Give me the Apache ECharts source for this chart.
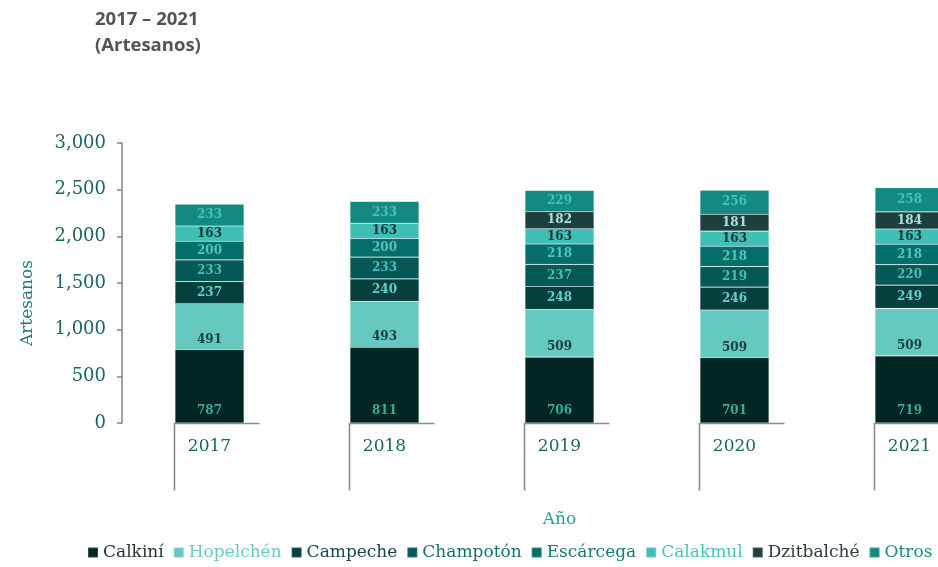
<!DOCTYPE html>
<html>
<head>
<meta charset="utf-8">
<script src="https://cdn.jsdelivr.net/npm/echarts@6/dist/echarts.min.js"></script>
<style>
  html, body { margin: 0; padding: 0; background: #fff; }
  #chart { width: 938px; height: 567px; }
</style>
</head>
<body>
<div id="chart"></div>
<script>
// Artesanos por municipio, 2017 – 2021
const years = ['2017', '2018', '2019', '2020', '2021'];
const calkini    = [787, 811, 706, 701, 719];
const hopelchen  = [491, 493, 509, 509, 509];
const campeche   = [237, 240, 248, 246, 249];
const champoton  = [233, 233, 237, 219, 220];
const escarcega  = [200, 200, 218, 218, 218];
const calakmul   = [163, 163, 163, 163, 163];
const dzitbalche = [null, null, 182, 181, 184];
const otros      = [233, 233, 229, 256, 258];
const yTicks = [0, 500, 1000, 1500, 2000, 2500, 3000];

const SERIF = '"DejaVu Serif", serif';
const BAR_W = 69;

const seriesDefs = [
  { name: 'Calkiní',    data: calkini,    color: '#012624', label: '#38ABA1', pos: 'insideBottom', dist: 6 },
  { name: 'Hopelchén',  data: hopelchen,  color: '#66C9C0', label: '#1B4040', pos: 'insideBottom', dist: 4 },
  { name: 'Campeche',   data: campeche,   color: '#053F3E', label: '#62CFC4', pos: 'inside' },
  { name: 'Champotón',  data: champoton,  color: '#045856', label: '#45BFB4', pos: 'inside' },
  { name: 'Escárcega',  data: escarcega,  color: '#046F6A', label: '#52C4B9', pos: 'inside' },
  { name: 'Calakmul',   data: calakmul,   color: '#3EC0B6', label: '#163636', pos: 'inside' },
  { name: 'Dzitbalché', data: dzitbalche, color: '#1D3F3D', label: '#A9E2DC', pos: 'inside' },
  { name: 'Otros',      data: otros,      color: '#128A82', label: '#45C2B7', pos: 'inside' }
];

const legendText = {
  'Calkiní': '#1C3333', 'Hopelchén': '#6CCAC0', 'Campeche': '#124848', 'Champotón': '#1A6E69',
  'Escárcega': '#1A7A73', 'Calakmul': '#4CC4BA', 'Dzitbalché': '#263F3E', 'Otros': '#1A8C84'
};

const barSeries = seriesDefs.map(d => ({
  name: d.name,
  type: 'bar',
  stack: 'total',
  barWidth: BAR_W,
  data: d.data,
  itemStyle: { color: d.color, borderColor: 'rgba(255,255,255,0.18)', borderWidth: 0.6 },
  label: {
    show: true,
    position: d.pos,
    distance: d.dist || 5,
    color: d.label,
    fontFamily: SERIF,
    fontWeight: 600,
    fontSize: 12,
    formatter: p => p.value
  },
  emphasis: { disabled: true }
}));

// Category axis drawn as a tick under each bar's left edge plus a short baseline
const axisMarks = {
  name: 'eje',
  type: 'custom',
  silent: true,
  clip: false,
  z: 5,
  data: years.map((y, i) => [i, 0]),
  renderItem: (params, api) => {
    const p = api.coord([api.value(0), 0]);
    const left = Math.round(p[0] - BAR_W / 2) - 0.5;
    const y0 = Math.round(p[1]) + 0.5;
    return {
      type: 'polyline',
      shape: { points: [[left, y0 + 67], [left, y0], [left + 85, y0]] },
      style: { stroke: '#8C8C8C', lineWidth: 1.6, fill: null }
    };
  }
};

const chart = echarts.init(document.getElementById('chart'), null, { renderer: 'canvas' });
chart.setOption({
  animation: false,
  backgroundColor: '#ffffff',
  title: {
    text: '2017 – 2021\n(Artesanos)',
    left: 90,
    top: 2,
    textStyle: { fontFamily: '"Open Sans", Lato, sans-serif', fontWeight: 'bold', fontSize: 18.5, color: '#555555', lineHeight: 26 }
  },
  legend: {
    data: seriesDefs.map(d => ({ name: d.name, textStyle: { color: legendText[d.name] } })),
    left: 82,
    bottom: 1,
    width: 1000,
    itemWidth: 10,
    itemHeight: 10,
    itemGap: 9,
    icon: 'rect',
    textStyle: { fontFamily: SERIF, fontSize: 17 }
  },
  grid: { left: 122, top: 143, width: 875, height: 280, outerBoundsMode: 'none', containLabel: false },
  xAxis: {
    type: 'category',
    data: years,
    name: 'Año',
    nameLocation: 'middle',
    nameGap: 88,
    nameTextStyle: { fontFamily: SERIF, fontSize: 17, color: '#27A196' },
    axisLine: { show: false },
    axisTick: { show: false },
    axisLabel: { fontFamily: SERIF, fontSize: 17, color: '#1A6660', margin: 15 }
  },
  yAxis: {
    type: 'value',
    min: 0,
    max: 3000,
    interval: 500,
    name: 'Artesanos',
    nameLocation: 'middle',
    nameGap: 86,
    nameTextStyle: { fontFamily: SERIF, fontSize: 17, color: '#1E7A72', padding: [0, 40, 0, 0] },
    axisLine: { show: true, lineStyle: { color: '#8C8C8C', width: 1.6 } },
    axisTick: { show: true, length: 5, lineStyle: { color: '#8C8C8C', width: 1.6 } },
    splitLine: { show: false },
    axisLabel: {
      fontFamily: SERIF, fontSize: 18, color: '#1A6660', margin: 16,
      formatter: v => yTicks.includes(v) ? v.toLocaleString('en-US') : ''
    }
  },
  series: [...barSeries, axisMarks]
});
</script>
</body>
</html>
